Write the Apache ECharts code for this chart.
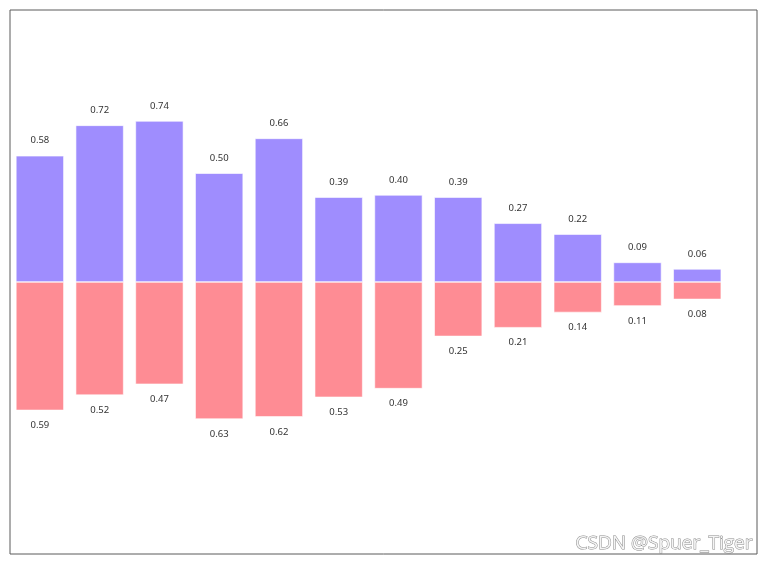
<!DOCTYPE html>
<html>
<head>
<meta charset="utf-8">
<script src="https://cdn.jsdelivr.net/npm/echarts@6/dist/echarts.min.js"></script>
<style>
  html, body { margin: 0; padding: 0; background: #fff; }
  #chart { width: 767px; height: 564px; }
</style>
</head>
<body>
<div id="chart"></div>
<script>
// positions 0..11 along x
var xs = [0, 1, 2, 3, 4, 5, 6, 7, 8, 9, 10, 11];
var upper = [0.58, 0.72, 0.74, 0.50, 0.66, 0.39, 0.40, 0.39, 0.27, 0.22, 0.09, 0.06];
var lower = [0.59, 0.52, 0.47, 0.63, 0.62, 0.53, 0.49, 0.25, 0.21, 0.14, 0.11, 0.08];

var myChart = echarts.init(document.getElementById('chart'));

myChart.setOption({
	animation: false,
	grid: { left: 10, top: 10, width: 747, height: 544, show: true,
		borderColor: '#5a5a5a', borderWidth: 1, backgroundColor: '#fff' },
	xAxis: {
		type: 'value', min: -0.5, max: 12,
		show: false
	},
	yAxis: {
		type: 'value', min: -1.25, max: 1.25,
		show: false
	},
	series: [
		{
			type: 'bar',
			barWidth: 48,
			barGap: '-100%',
			data: xs.map(function (x, i) { return [x, upper[i]]; }),
			itemStyle: { color: '#9f8dfe', borderColor: '#fff', borderWidth: 0.6 },
			label: {
				show: true, position: 'top', distance: 10,
				fontFamily: 'Noto Sans', fontSize: 9.5, color: '#333',
				formatter: function (p) { return p.value[1].toFixed(2); }
			}
		},
		{
			type: 'bar',
			barWidth: 48,
			data: xs.map(function (x, i) { return [x, -lower[i]]; }),
			itemStyle: { color: '#fe8c94', borderColor: '#fff', borderWidth: 0.6 },
			label: {
				show: true, position: 'bottom', distance: 10,
				fontFamily: 'Noto Sans', fontSize: 9.5, color: '#333',
				formatter: function (p) { return (-p.value[1]).toFixed(2); }
			}
		}
	],
	graphic: [
		{
			type: 'text', right: 14, bottom: 10,
			style: {
				text: 'CSDN @Spuer_Tiger',
				font: '19px "Open Sans"',
				fill: '#f4f4f4', stroke: '#8c8c8c', lineWidth: 1
			}
		}
	]
});
</script>
</body>
</html>
